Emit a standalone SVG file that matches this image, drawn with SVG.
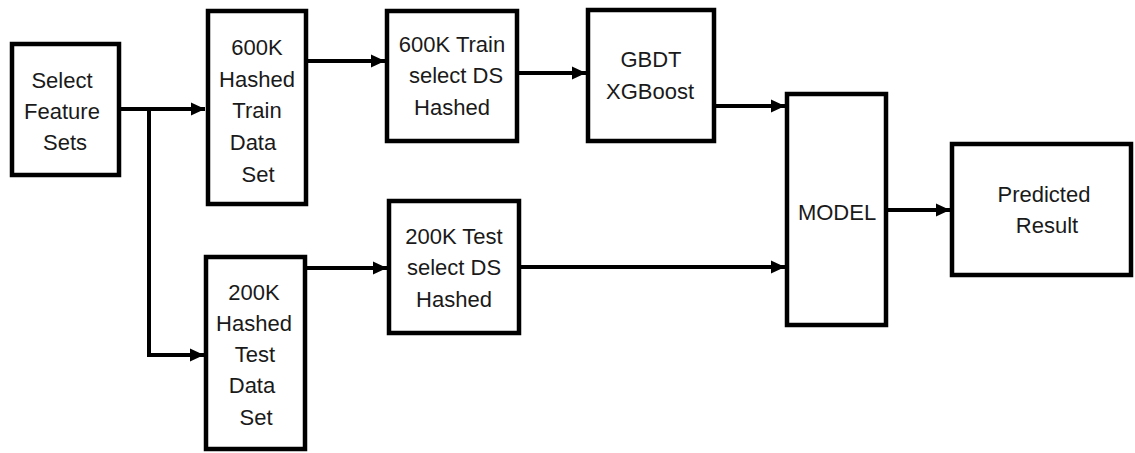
<svg xmlns="http://www.w3.org/2000/svg" width="1135" height="453" viewBox="0 0 1135 453">
<style>
.box{fill:#fff;stroke:#000;stroke-width:4.5}
.lbl{font-family:"Liberation Sans",Arial,sans-serif;font-size:22px;fill:#1a1a1a;text-anchor:middle}
.con{fill:none;stroke:#000;stroke-width:4}
</style>
<defs>
<marker id="arr" markerUnits="userSpaceOnUse" markerWidth="16" markerHeight="16" refX="14" refY="8" orient="auto">
<path d="M0,1.5 L14,8 L0,14.5 Z" fill="#000"/>
</marker>
</defs>
<g id="connectors">
<polyline class="con" points="121,109 205,109" marker-end="url(#arr)"/>
<polyline class="con" points="149,109 149,355 204,355" marker-end="url(#arr)"/>
<polyline class="con" points="308,61 385,61" marker-end="url(#arr)"/>
<polyline class="con" points="519,73 586,73" marker-end="url(#arr)"/>
<polyline class="con" points="716,106 785,106" marker-end="url(#arr)"/>
<polyline class="con" points="307,268 387,268" marker-end="url(#arr)"/>
<polyline class="con" points="521,267 785,267" marker-end="url(#arr)"/>
<polyline class="con" points="888,210 950,210" marker-end="url(#arr)"/>
</g>
<g id="select">
<rect class="box" x="12" y="44" width="107" height="131"/>
<text class="lbl" x="62" y="88">Select</text>
<text class="lbl" x="62" y="119">Feature</text>
<text class="lbl" x="65" y="150">Sets</text>
</g>
<g id="train600">
<rect class="box" x="208" y="11" width="98" height="193"/>
<text class="lbl" x="257" y="55">600K</text>
<text class="lbl" x="257" y="87">Hashed</text>
<text class="lbl" x="257" y="118">Train</text>
<text class="lbl" x="253" y="150">Data</text>
<text class="lbl" x="258" y="182">Set</text>
</g>
<g id="trainsel">
<rect class="box" x="387" y="11" width="130" height="130"/>
<text class="lbl" x="452" y="52">600K Train</text>
<text class="lbl" x="456" y="83">select DS</text>
<text class="lbl" x="452" y="115">Hashed</text>
</g>
<g id="gbdt">
<rect class="box" x="588" y="10" width="126" height="131"/>
<text class="lbl" x="651" y="67">GBDT</text>
<text class="lbl" x="650" y="99">XGBoost</text>
</g>
<g id="test200">
<rect class="box" x="206" y="257" width="99" height="192"/>
<text class="lbl" x="254" y="300">200K</text>
<text class="lbl" x="254" y="331">Hashed</text>
<text class="lbl" x="255" y="362">Test</text>
<text class="lbl" x="252" y="393">Data</text>
<text class="lbl" x="256" y="425">Set</text>
</g>
<g id="testsel">
<rect class="box" x="389" y="201" width="130" height="132"/>
<text class="lbl" x="454" y="244">200K Test</text>
<text class="lbl" x="454" y="275">select DS</text>
<text class="lbl" x="454" y="307">Hashed</text>
</g>
<g id="model">
<rect class="box" x="787" y="94" width="99" height="231"/>
<text class="lbl" x="837" y="220">MODEL</text>
</g>
<g id="predicted">
<rect class="box" x="952" y="144" width="179" height="131"/>
<text class="lbl" x="1044" y="202">Predicted</text>
<text class="lbl" x="1047" y="233">Result</text>
</g>
</svg>
